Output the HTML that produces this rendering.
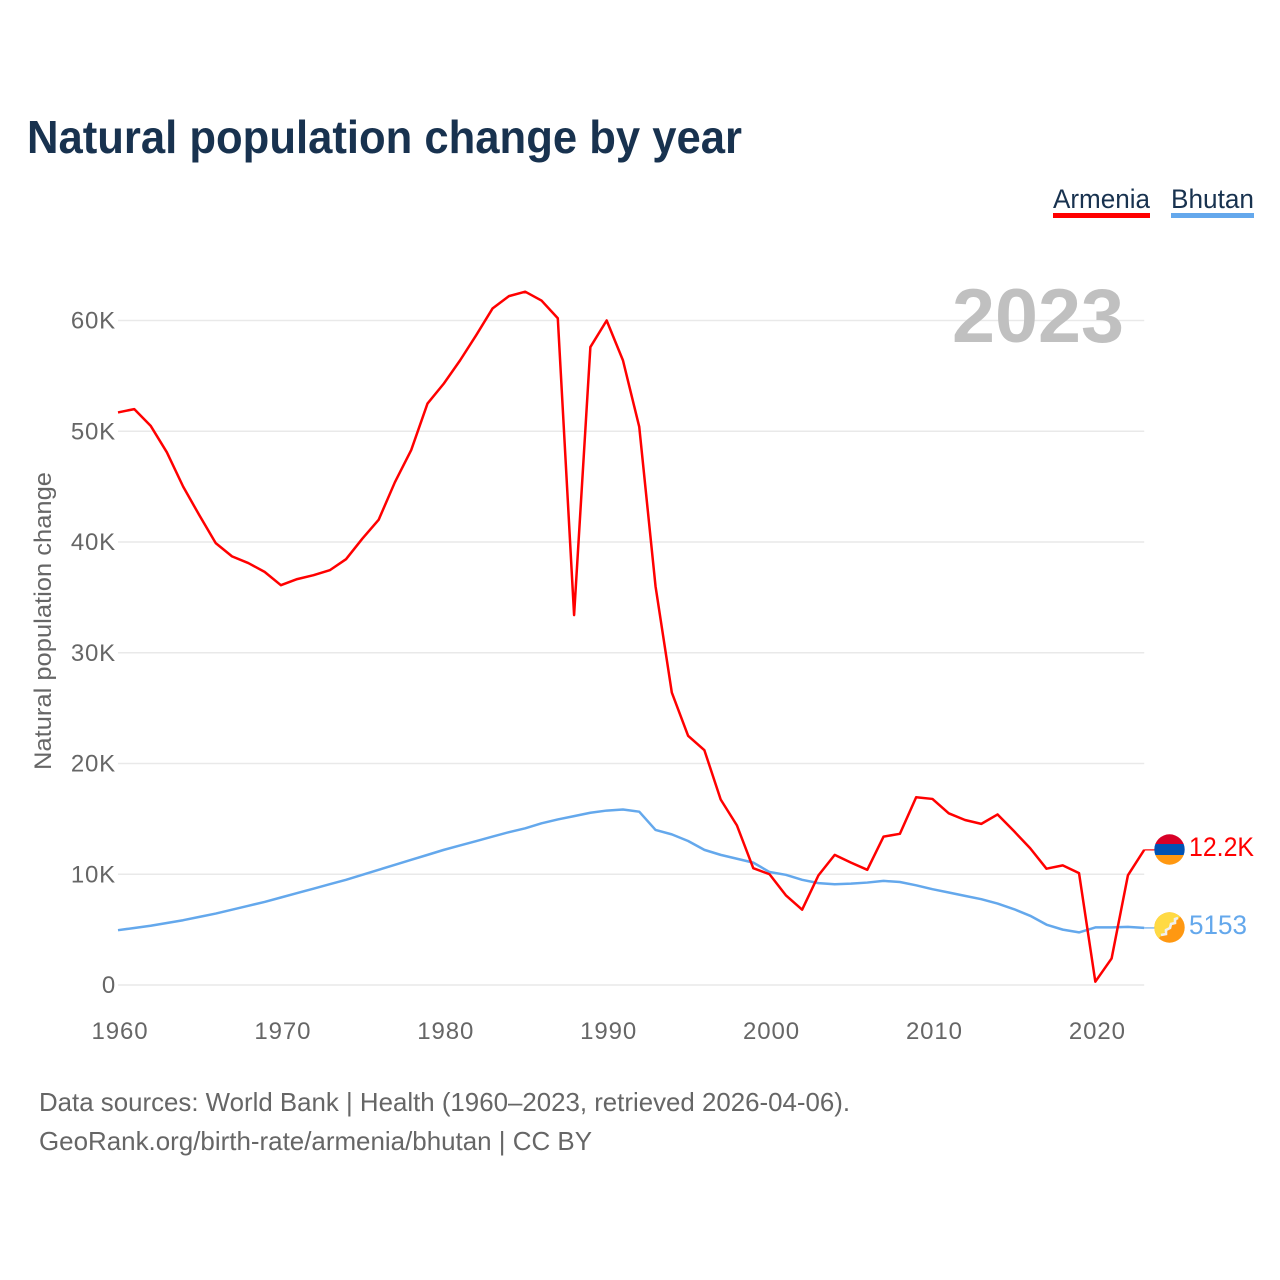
<!DOCTYPE html>
<html lang="en">
<head>
<meta charset="utf-8">
<title>Natural population change by year</title>
<style>
html,body{margin:0;padding:0;background:#fff;width:1280px;height:1280px;overflow:hidden}
svg{display:block;font-family:"Liberation Sans",sans-serif}
</style>
</head>
<body>
<svg id="chart" xmlns="http://www.w3.org/2000/svg" width="1280" height="1280" viewBox="0 0 1280 1280">
  <rect x="0" y="0" width="1280" height="1280" fill="#fff"/>
  <text x="27" y="153" font-size="46" font-weight="700" fill="#18324f" textLength="715" lengthAdjust="spacingAndGlyphs">Natural population change by year</text>
  <g id="grid"></g>
  <text x="952" y="342" font-size="76" font-weight="700" fill="#c0c0c0" textLength="172" lengthAdjust="spacingAndGlyphs">2023</text>
  <g id="y-ticks"></g>
  <g id="x-ticks"></g>
  <text transform="translate(51,770) rotate(-90)" x="0" y="0" font-size="24" fill="#666" textLength="298" lengthAdjust="spacingAndGlyphs">Natural population change</text>
  <g id="series"></g>

  <g>
    <text x="1053" y="208" font-size="27" fill="#18324f" textLength="97" lengthAdjust="spacingAndGlyphs">Armenia</text>
    <rect x="1053" y="213" width="97" height="5" fill="#ff0000"/>
  </g>
  <g>
    <text x="1171" y="208" font-size="27" fill="#18324f" textLength="83" lengthAdjust="spacingAndGlyphs">Bhutan</text>
    <rect x="1171" y="213" width="83" height="5" fill="#64a8ec"/>
  </g>

  <defs>
    <clipPath id="flag-am-clip"><circle cx="1169.5" cy="849.5" r="15.2"/></clipPath>
    <clipPath id="flag-bt-clip"><circle cx="1169.5" cy="927.5" r="15.2"/></clipPath>
  </defs>
  <g clip-path="url(#flag-am-clip)">
    <rect x="1154" y="834" width="31" height="10" fill="#d80027"/>
    <rect x="1154" y="844" width="31" height="11" fill="#0052b4"/>
    <rect x="1154" y="855" width="31" height="10" fill="#ff9811"/>
  </g>
  <g clip-path="url(#flag-bt-clip)">
    <rect x="1154" y="912" width="31" height="31" fill="#ff9811"/>
    <polygon points="1154,912 1185,912 1154,943" fill="#ffda44"/>
    <polyline points="1161,935 1166,934 1166,930 1170,928 1171,924 1175,923 1175,919 1178,918" fill="none" stroke="#f0f0f0" stroke-width="2.6"/>
  </g>
  <text x="1189" y="856" font-size="27" fill="#ff0000" textLength="65" lengthAdjust="spacingAndGlyphs">12.2K</text>
  <text x="1189" y="934" font-size="27" fill="#64a8ec" textLength="58" lengthAdjust="spacingAndGlyphs">5153</text>

  <text x="39" y="1111" font-size="26" fill="#666" textLength="811" lengthAdjust="spacingAndGlyphs">Data sources: World Bank | Health (1960–2023, retrieved 2026-04-06).</text>
  <text x="39" y="1150" font-size="26" fill="#666" textLength="553" lengthAdjust="spacingAndGlyphs">GeoRank.org/birth-rate/armenia/bhutan | CC BY</text>
</svg>
<script>
const startYear = 1960;
const endYear = 2023;
const yTickValues = [0, 10000, 20000, 30000, 40000, 50000, 60000];
const yTickLabels = ["0", "10K", "20K", "30K", "40K", "50K", "60K"];
const xTickValues = [1960, 1970, 1980, 1990, 2000, 2010, 2020];
const xTickLabels = ["1960", "1970", "1980", "1990", "2000", "2010", "2020"];
const armeniaValues = [
  51700, 52000, 50500, 48100, 45000, 42400, 39900, 38700, 38100, 37300,
  36100, 36650, 37000, 37450, 38450, 40300, 42000, 45400, 48300, 52500,
  54300, 56400, 58700, 61100, 62200, 62600, 61800, 60200, 33400, 57600,
  60000, 56400, 50400, 36000, 26400, 22500, 21200, 16750, 14400, 10550,
  10000, 8100, 6800, 9900, 11750, 11050, 10400, 13400, 13650, 16950,
  16800, 15500, 14900, 14550, 15400, 13900, 12350, 10500, 10800, 10100,
  300, 2400, 9900, 12200
];
const bhutanValues = [
  4950, 5150, 5350, 5600, 5850, 6150, 6450, 6800, 7150, 7500,
  7900, 8300, 8700, 9100, 9500, 9950, 10400, 10850, 11300, 11750,
  12200, 12600, 13000, 13400, 13800, 14150, 14600, 14950, 15250, 15550,
  15750, 15850, 15650, 14000, 13600, 13000, 12200, 11750, 11400, 11050,
  10200, 9950, 9500, 9200, 9100, 9150, 9250, 9400, 9300, 9000,
  8650, 8350, 8050, 7750, 7350, 6850, 6250, 5450, 5000, 4750,
  5200, 5200, 5250, 5153
];

const NS = "http://www.w3.org/2000/svg";
const plotLeft = 118, plotRight = 1144.2, plotBottom = 985, plotTop = 320.5;
function xScale(year) {
  return plotLeft + (year - startYear) / (endYear - startYear) * (plotRight - plotLeft);
}
function yScale(value) {
  return plotBottom - value / 60000 * (plotBottom - plotTop);
}
function make(tag, attrs, parent) {
  const el = document.createElementNS(NS, tag);
  for (const k in attrs) el.setAttribute(k, attrs[k]);
  parent.appendChild(el);
  return el;
}
const grid = document.getElementById("grid");
const yTicks = document.getElementById("y-ticks");
const xTicks = document.getElementById("x-ticks");
const series = document.getElementById("series");

yTickValues.forEach(function (v, i) {
  const line = make("line", {x1: plotLeft, x2: plotRight, y1: yScale(v), y2: yScale(v), stroke: "#e9e9e9", "stroke-width": 1.6}, grid);
  
  
  const label = make("text", {x: 116, y: yScale(v) + 8, "text-anchor": "end", "font-size": 24, "letter-spacing": 0.8, fill: "#666"}, yTicks);
  
  
  label.textContent = yTickLabels[i];
});
xTickValues.forEach(function (y, i) {
  const label = make("text", {x: xScale(y) + 2, y: 1039, "text-anchor": "middle", "font-size": 24, "letter-spacing": 0.9, fill: "#666"}, xTicks);
  
  
  label.textContent = xTickLabels[i];
});
function drawSeries(values, color, name) {
  const pts = values.map(function (v, i) {
    return xScale(startYear + i).toFixed(2) + "," + yScale(v).toFixed(2);
  }).join(" ");
  const line = make("polyline", {points: pts, fill: "none", stroke: color, "stroke-width": 2.5, "stroke-linejoin": "round"}, series);
  
  
  const lastY = yScale(values[values.length - 1]);
  const connector = make("line", {x1: plotRight, x2: 1156, y1: lastY, y2: lastY, stroke: color, "stroke-width": 1.2}, series);
  
  
}
drawSeries(bhutanValues, "#64a8ec", "bhutan-line");
drawSeries(armeniaValues, "#ff0000", "armenia-line");
</script>
</body>
</html>
